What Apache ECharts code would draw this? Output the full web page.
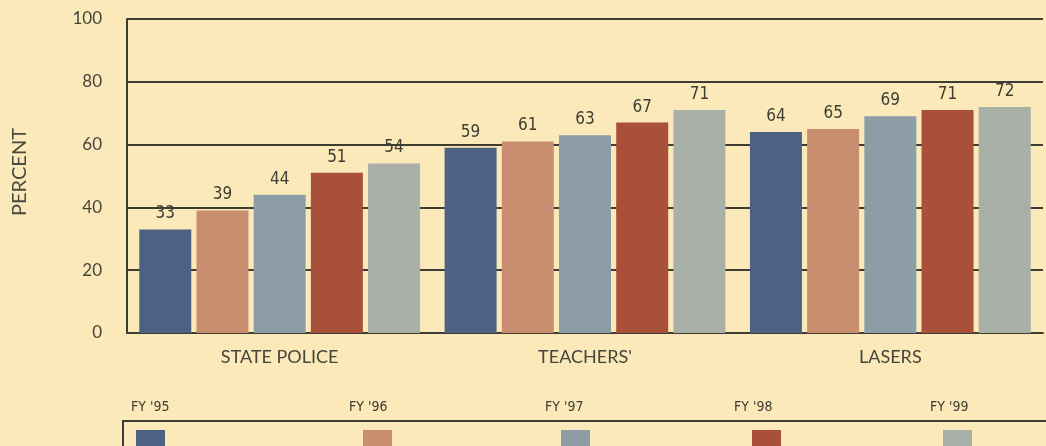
<!DOCTYPE html>
<html>
<head>
<meta charset="utf-8">
<script src="https://cdn.jsdelivr.net/npm/echarts@6/dist/echarts.min.js"></script>
<style>
  html, body { margin: 0; padding: 0; background: #fbe9b9; }
  #chart { width: 1046px; height: 446px; }
</style>
</head>
<body>
<div id="chart"></div>
<script>
var categories = ['STATE POLICE', "TEACHERS'", 'LASERS'];
var years = ["FY '95", "FY '96", "FY '97", "FY '98", "FY '99"];
var fy95 = [33, 59, 64];
var fy96 = [39, 61, 65];
var fy97 = [44, 63, 69];
var fy98 = [51, 67, 71];
var fy99 = [54, 71, 72];
var yTicks = [0, 20, 40, 60, 80, 100];

var colors = ['#4d6283', '#c98d70', '#8c9da6', '#a9503a', '#a8b0a7'];
var values = [fy95, fy96, fy97, fy98, fy99];
var ink = '#3d3d33';
var condensed = '"DejaVu Sans Condensed", "DejaVu Sans"';

var chart = echarts.init(document.getElementById('chart'));

var series = years.map(function (y, i) {
  return {
    name: y,
    type: 'bar',
    data: values[i],
    barWidth: 52,
    barGap: '10%',
    itemStyle: { color: colors[i] },
    label: {
      show: true,
      position: 'top',
      distance: 7,
      color: ink,
      fontFamily: condensed,
      fontSize: 17
    }
  };
});

// legend swatches sit in a box, with the year written above each one
var legendX = [136, 363, 561, 752, 943];
var legends = years.map(function (y, i) {
  return {
    data: [y],
    left: legendX[i],
    top: 430,
    padding: 0,
    itemWidth: 29,
    itemHeight: 16,
    icon: 'rect',
    formatter: function () { return ''; },
    selectedMode: false
  };
});
var labelX = [131, 349, 545, 734, 930];
var graphics = years.map(function (y, i) {
  return {
    type: 'text',
    left: labelX[i],
    top: 400,
    style: { text: y, fill: ink, font: '14px ' + condensed }
  };
});
graphics.push({
  type: 'rect',
  shape: { x: 123, y: 421, width: 1000, height: 60 },
  style: { fill: 'none', stroke: ink, lineWidth: 2 }
});
graphics.push({
  type: 'text',
  left: 10,
  top: 128,
  rotation: Math.PI / 2,
  style: { text: 'PERCENT', fill: '#4a4a40', font: '20px Lato' }
});

chart.setOption({
  backgroundColor: '#fbe9b9',
  animation: false,
  grid: { left: 127, right: 3, top: 19, bottom: 113 },
  legend: legends,
  graphic: graphics,
  xAxis: {
    type: 'category',
    data: categories,
    axisLine: { lineStyle: { color: ink, width: 2 } },
    axisTick: { show: false },
    axisLabel: { color: '#45453b', fontFamily: 'Lato', fontSize: 18, margin: 15 }
  },
  yAxis: {
    type: 'value',
    min: yTicks[0],
    max: yTicks[yTicks.length - 1],
    interval: 20,
    axisLine: { show: true, lineStyle: { color: ink, width: 2 } },
    axisTick: { show: false },
    axisLabel: { color: '#45453b', fontFamily: 'Lato', fontSize: 17, margin: 25 },
    splitLine: { lineStyle: { color: ink, width: 2 } }
  },
  series: series
});
</script>
</body>
</html>
